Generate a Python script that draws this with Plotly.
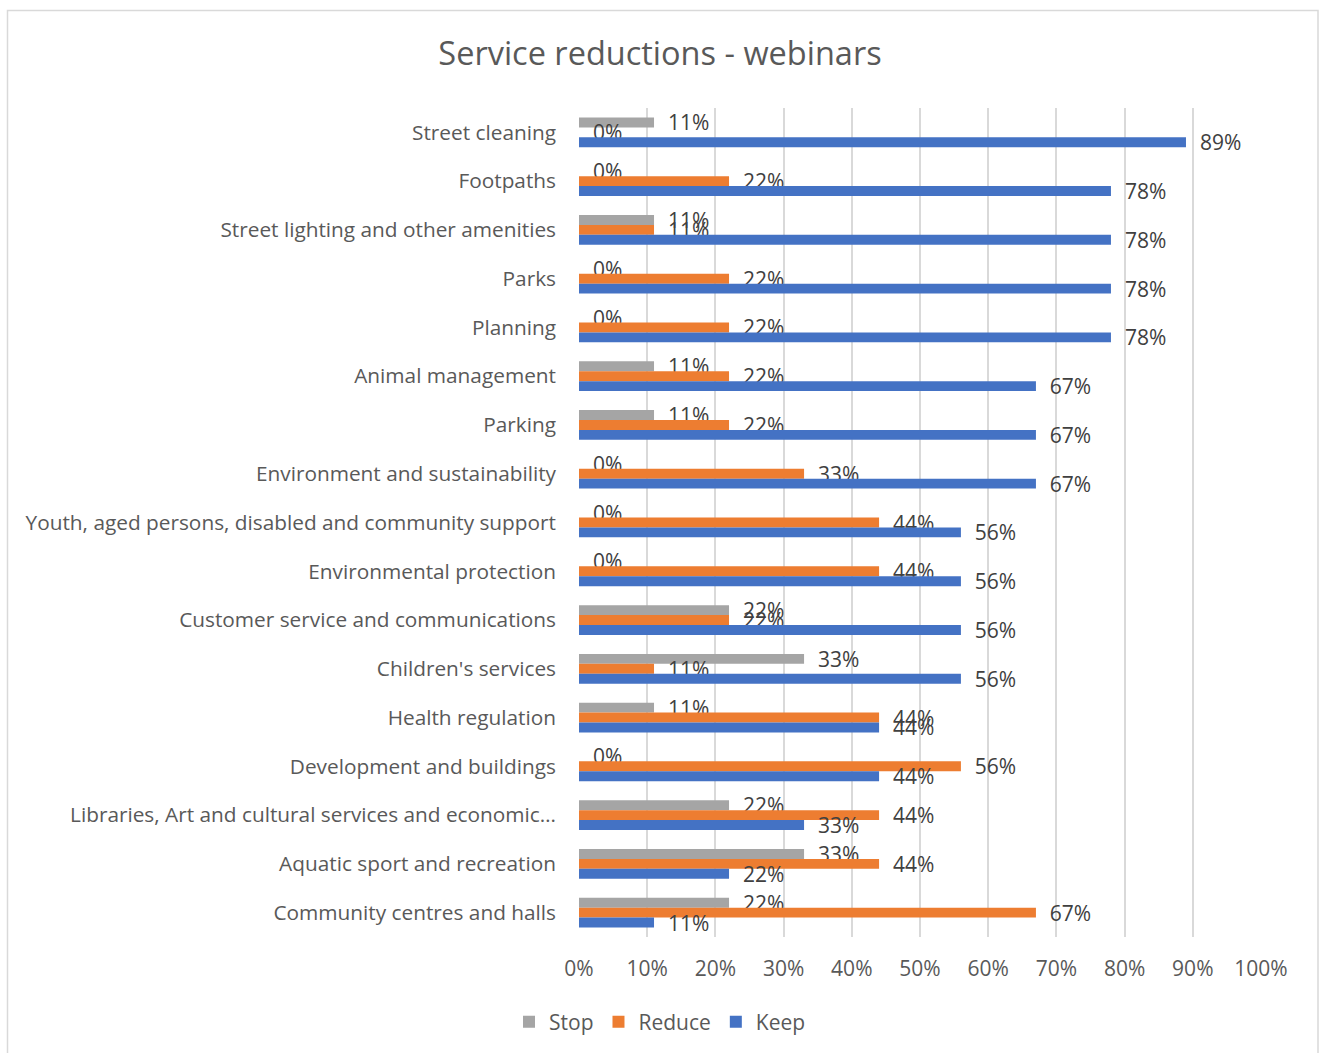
import plotly.graph_objects as go

# Services rated by webinar participants, top to bottom as shown
services = [
    "Street cleaning",
    "Footpaths",
    "Street lighting and other amenities",
    "Parks",
    "Planning",
    "Animal management",
    "Parking",
    "Environment and sustainability",
    "Youth, aged persons, disabled and community support",
    "Environmental protection",
    "Customer service and communications",
    "Children's services",
    "Health regulation",
    "Development and buildings",
    "Libraries, Art and cultural services and economic…",
    "Aquatic sport and recreation",
    "Community centres and halls",
]

stop = [0.11, 0.00, 0.11, 0.00, 0.00, 0.11, 0.11, 0.00, 0.00, 0.00,
        0.22, 0.33, 0.11, 0.00, 0.22, 0.33, 0.22]
reduce = [0.00, 0.22, 0.11, 0.22, 0.22, 0.22, 0.22, 0.33, 0.44, 0.44,
          0.22, 0.11, 0.44, 0.56, 0.44, 0.44, 0.67]
keep = [0.89, 0.78, 0.78, 0.78, 0.78, 0.67, 0.67, 0.67, 0.56, 0.56,
        0.56, 0.56, 0.44, 0.44, 0.33, 0.22, 0.11]

x_ticks = [0, 0.1, 0.2, 0.3, 0.4, 0.5, 0.6, 0.7, 0.8, 0.9, 1.0]

FONT = "Open Sans"
TEXT_GREY = "#595959"
LABEL_GREY = "#404040"

series = [
    ("Stop", stop, "#A5A5A5"),
    ("Reduce", reduce, "#ED7D31"),
    ("Keep", keep, "#4472C4"),
]

fig = go.Figure()
for name, values, color in series:
    fig.add_trace(go.Bar(
        name=name,
        y=services,
        x=values,
        orientation="h",
        marker=dict(color=color, line=dict(width=0)),
        texttemplate="\u00a0\u00a0%{x:.0%}",
        textposition="outside",
        constraintext="none",
        cliponaxis=False,
        textfont=dict(family=FONT, size=21, color=LABEL_GREY),
        hoverinfo="skip",
    ))

W, H = 1320, 1053
L, R, T, B = 579, 59, 108, 115
pw, ph = W - L - R, H - T - B

def px_x(x):
    return (x - L) / pw

def px_y(y):
    return (H - B - y) / ph

fig.update_layout(
    width=W,
    height=H,
    margin=dict(l=L, r=R, t=T, b=B, pad=0),
    paper_bgcolor="white",
    plot_bgcolor="white",
    barmode="group",
    bargap=0.39,
    bargroupgap=0,
    font=dict(family=FONT, color=TEXT_GREY),
    title=dict(
        text="Service reductions - webinars",
        font=dict(family=FONT, size=32.5, color=TEXT_GREY),
        x=0.5, xref="container", xanchor="center",
        y=1 - 54 / H, yref="container", yanchor="middle",
    ),
    xaxis=dict(
        range=[0, 1],
        tickvals=x_ticks,
        tickformat=".0%",
        showgrid=True,
        gridcolor="#D9D9D9",
        gridwidth=1.5,
        zeroline=False,
        showline=False,
        ticks="",
        ticklabelstandoff=17,
        tickfont=dict(family=FONT, size=21, color=TEXT_GREY),
    ),
    yaxis=dict(
        autorange="reversed",
        showgrid=False,
        showline=False,
        ticks="",
        ticklabelstandoff=22,
        tickfont=dict(family=FONT, size=20.8, color=TEXT_GREY),
    ),
    legend=dict(
        orientation="h",
        x=px_x(660), xanchor="center",
        y=px_y(1022), yanchor="middle",
        font=dict(family=FONT, size=21, color=TEXT_GREY),
        itemwidth=30,
        traceorder="normal",
    ),
    shapes=[dict(
        type="rect", xref="paper", yref="paper",
        x0=px_x(7.5), x1=px_x(1318), y0=px_y(1060), y1=px_y(10.5),
        line=dict(color="#D9D9D9", width=1.5),
        fillcolor="rgba(0,0,0,0)", layer="below",
    )],
)

fig.write_html("out.html")
